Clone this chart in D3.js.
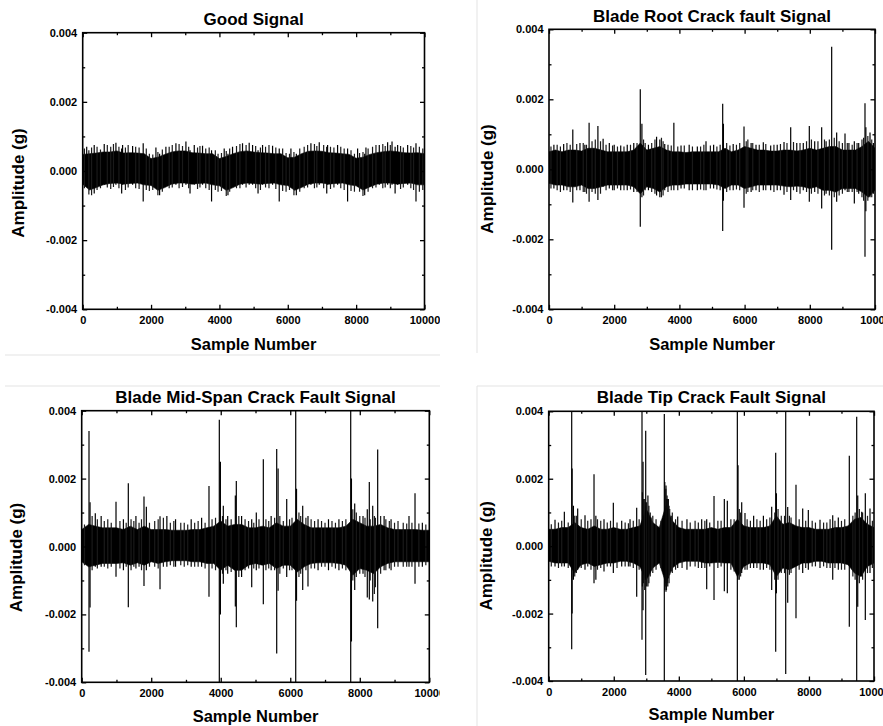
<!DOCTYPE html>
<html><head><meta charset="utf-8">
<script src="https://cdn.jsdelivr.net/npm/d3@7"></script>
<style>
html,body{margin:0;padding:0;background:#fff;}
svg text{font-family:"Liberation Sans",Arial,Helvetica,sans-serif;font-weight:bold;fill:#000;}
</style></head><body>
<svg id="chart" width="883" height="726"></svg>
<script>
// ---- DATA (amplitudes, written in units of 1e-4 g) ----
const UNIT = 1e-4;
const envelopeStep = 200;          // envelope of the dense noise band, one value every 200 samples
const sampleMax = 10000;

const xTickValues = [0, 2000, 4000, 6000, 8000, 10000];
const xTickLabels = ["0", "2000", "4000", "6000", "8000", "10000"];
const xMinorTicks = [1000, 3000, 5000, 7000, 9000];
const yTickValues = [-0.004, -0.002, 0, 0.002, 0.004];
const yTickLabels = ["-0.004", "-0.002", "0.000", "0.002", "0.004"];
const yMinorTicks = [-0.003, -0.001, 0.001, 0.003];

const titles = ["Good Signal", "Blade Root Crack fault Signal", "Blade Mid-Span Crack Fault Signal", "Blade Tip Crack Fault Signal"];
const xLabel = "Sample Number";
const yLabel = "Amplitude (g)";

// Good signal: band envelope, spikes [sample, max, min], fringe hairs [sample, max, min]
const goodUpper = [4.8,5,5.2,5.5,5.5,5.8,5.2,5.3,5.2,5,3.6,4,4.8,5.5,5.8,5.8,5.3,5.2,5,5,3.6,4.2,5,5.6,5.8,5.5,5.3,5.2,5,5,3.8,4,5,5.7,5.8,5.7,5.3,5.2,5,4.8,3.7,4,4.8,5.3,5.6,5.8,5.6,5.3,5.2,5.3,5];
const goodLower = [-3.8,-5.5,-4.8,-4,-3.6,-3.5,-3.8,-3.6,-3.5,-4,-4.2,-5.6,-4.8,-3.8,-3.5,-3.5,-3.8,-3.6,-3.5,-4,-4.3,-5.6,-4.8,-3.8,-3.5,-3.6,-3.8,-3.6,-3.5,-4,-4.2,-5.6,-4.8,-3.8,-3.5,-3.5,-3.8,-3.6,-3.5,-4,-4.3,-5.5,-4.6,-3.8,-3.5,-3.5,-3.8,-3.6,-3.5,-4,-4];
const goodSpikes = [[117,7,-4],[337,7.5,-6.5],[630,7.8,-4],[972,8.2,-4],[1140,6.5,-6.5],[1167,7.5,-4],[1460,7.2,-4],[1770,8,-8.8],[2142,6.8,-4.5],[2250,5,-7],[2434,7,-4],[2727,8,-4],[3020,8.5,-4],[3140,6,-6.5],[3264,7.5,-4],[3506,7.3,-4],[3770,6,-8.8],[4140,6.5,-4.5],[4250,5,-7],[4384,7,-4],[4676,8,-4],[4871,8.2,-4],[4970,7.5,-4],[5130,6,-6.5],[5262,7.5,-4],[5555,7.3,-4],[5750,6.5,-8.8],[6092,6.5,-4.5],[6250,5,-7],[6677,8,-4],[6921,8.3,-4],[7140,7,-6.5],[7165,7.5,-4],[7457,7.5,-4],[7750,6.5,-8.8],[8043,6.5,-4.5],[8250,5,-7],[8287,6.8,-4],[8677,7.5,-4],[8921,8.3,-4],[9050,8.5,-4],[9140,7,-6.5],[9214,7.5,-4],[9507,7.5,-4],[9751,8,-8.8]];
const goodHairs = [[50,6.5,-5],[180,6,-6.8],[260,6.8,-7],[420,7,-5.5],[520,6.2,-5],[720,7.5,-4.8],[820,7,-5.2],[900,7.8,-4.6],[1060,7,-5],[1250,6.8,-5.5],[1330,7.5,-4.8],[1550,7,-5],[1650,6.8,-5.2],[1860,6.5,-5.5],[1950,5,-5.8],[2050,4.8,-5.5],[2200,5.5,-7],[2330,6.2,-6],[2530,7,-5],[2620,7.5,-4.8],[2820,7.8,-5],[2920,7.2,-4.6],[3100,7,-5],[3360,6.8,-5.2],[3430,7.2,-4.8],[3600,6.5,-5],[3700,6.8,-5.5],[3880,6,-5.5],[3960,5,-6],[4060,5.2,-5.8],[4200,5.8,-7.2],[4300,6.5,-6],[4500,7.2,-5],[4600,7.8,-5],[4780,7.5,-4.8],[5060,7.2,-5],[5200,6.8,-5.5],[5350,7,-4.8],[5450,7.5,-5],[5650,6.8,-5.2],[5850,6.5,-5.8],[5950,5.2,-6],[6050,5,-5.5],[6180,5.5,-7],[6350,6.5,-6],[6480,7,-5],[6580,7.5,-4.8],[6780,7.8,-5],[6850,7.2,-4.8],[7050,7.5,-5],[7250,7,-5.2],[7350,6.8,-4.8],[7550,7,-5],[7650,6.5,-5.5],[7850,6,-5.8],[7950,5,-6],[8100,5.2,-6],[8200,5.5,-7.2],[8350,6.5,-6],[8480,7,-5],[8580,7.5,-4.8],[8780,7.8,-5],[8850,7.2,-4.8],[9000,7.5,-5],[9300,7.2,-5.2],[9380,6.8,-4.8],[9600,7.2,-5],[9680,6.8,-5.5],[9850,7,-6],[9950,6.5,-5.5]];

// Blade root crack
const rootUpper = [5,5.5,5,5.5,5.5,5.2,6,6,5.5,5,5,5,5,5.5,7.5,5.5,6,6.5,5.5,5,5,4.8,5,5,5,5,5,6,5,5.5,6.5,6,5.5,5.5,5.2,5.2,5.5,5.5,5.2,5.5,6,5.5,6,6.5,6.5,5.5,5.5,5.5,6.5,8,6];
const rootLower = [-4,-4.5,-4.5,-5,-5,-4.5,-5.5,-5.5,-5,-4.5,-4.5,-4.5,-4.5,-5,-7,-5,-5.5,-6.5,-5,-4.5,-4.5,-4.2,-4.2,-4.2,-4.2,-4.2,-4.5,-5.5,-4.5,-4.5,-5.5,-5,-4.5,-4.5,-4.5,-4.5,-4.8,-5,-4.8,-5,-5.5,-5,-6,-6,-6.5,-5.5,-5.5,-5.5,-6.5,-8,-6];
const rootSpikes = [[150,7,-5.5],[450,7.2,-6],[730,11.4,-9.5],[950,7.5,-6],[1100,7,-6.5],[1230,13.3,-9.3],[1500,12.4,-8.8],[1660,8.7,-5],[1850,7.5,-5.5],[2000,7,-6],[2200,6.8,-6],[2400,7,-6],[2600,7.5,-6.5],[2800,22.9,-16.4],[2850,13,-8],[3050,7,-6],[3300,9.3,-7.5],[3400,8.5,-8],[3550,7.2,-6],[3830,13.3,-6],[4050,6.8,-5.5],[4300,7,-6],[4550,6.5,-6],[4816,8,-6],[5050,7,-5.5],[5328,18.7,-17.6],[5350,13,-9],[5650,7.2,-6],[5982,12.2,-11],[6200,7.5,-6.5],[6350,7,-6],[6574,7.7,-6],[6800,6.8,-6],[7000,7,-6],[7209,7.8,-7.3],[7414,12,-8.8],[7600,7.5,-6.5],[7800,7.5,-6],[7985,12.4,-9.3],[8150,8,-6.5],[8364,12,-11.2],[8500,8,-7],[8671,35,-23],[8824,10.5,-9.3],[9080,10.2,-6],[9200,7.5,-6.5],[9366,8,-9.8],[9500,7.5,-7],[9693,18.9,-25],[9720,12,-12],[9847,10.5,-8],[9950,7.5,-7]];
const rootHairs = [[60,6.5,-5.5],[250,7,-6],[350,6.5,-6.5],[550,7.5,-6],[650,7,-6.5],[850,7.2,-6],[1050,7.5,-6.5],[1150,7,-7],[1320,8,-6.5],[1420,8.5,-7],[1580,8,-7],[1750,7,-6],[1950,6.8,-6],[2100,6.5,-5.5],[2300,6.5,-6],[2500,7,-5.8],[2700,7.5,-6.5],[2900,8.5,-7.5],[2950,7.5,-6],[3150,7.5,-6.5],[3250,8.5,-7],[3450,9,-8],[3500,8,-7.5],[3650,7,-6.5],[3750,6.8,-6],[3950,6.5,-6],[4150,6.8,-5.5],[4400,6.5,-6],[4650,6.5,-5.8],[4750,7,-6],[4950,6.8,-5.5],[5150,6.5,-5.8],[5250,7,-6],[5450,7.5,-6.5],[5550,6.8,-6],[5750,7,-5.8],[5850,7.5,-6],[6050,8,-7],[6100,8.5,-6.5],[6250,7.5,-6],[6450,7,-6.5],[6650,7.2,-6],[6900,7,-6.5],[7100,7.2,-6],[7300,7.5,-6.5],[7500,7.8,-6],[7700,7.5,-7],[7900,8,-6.5],[8050,8.5,-7],[8250,8,-7],[8450,8.5,-7.5],[8600,8.5,-7.5],[8750,9,-8],[8900,8,-7.5],[9000,7.5,-7],[9150,7.5,-6.5],[9300,7,-6.5],[9450,7.5,-6.5],[9600,8.5,-8],[9650,9,-9],[9780,9.5,-9],[9900,8.5,-8]];

// Blade mid-span crack
const midUpper = [5,6.5,6,5.5,5.5,5.5,5,6,5,6,5,5,5,4.8,4.8,4.8,5,5,5.5,6,7.5,6,6.5,6.5,5.5,5.5,6,5.5,7,6,6,8,6.5,5.5,5.5,5.5,5.5,5.5,6,8,7,6,6,6.5,5.5,5,5,5,5,4.8,4.8];
const midLower = [-4.5,-6,-5.5,-5,-5,-5,-4.8,-5.5,-4.8,-5.5,-4.5,-5,-4.5,-4.2,-4.2,-4.2,-4.5,-4.5,-5,-5,-7,-5.5,-7,-7,-5.5,-5,-5.5,-5,-6.5,-5.5,-5.5,-7.5,-6,-5,-4.8,-4.8,-4.8,-5,-5.5,-8.5,-6.5,-7,-8,-6,-5,-4.5,-4.5,-4.5,-4.5,-4.5,-4.5];
const midSpikes = [[210,34,-31],[240,13,-18],[391,9.8,-6],[560,9,-6],[987,13.2,-8.9],[1200,8,-7],[1341,18.6,-17.9],[1560,9,-6.5],[1792,14.7,-11.6],[1860,11.7,-7],[2253,8.9,-12.6],[2450,9,-6],[2700,8,-6],[3150,8,-6],[3450,8.5,-6],[3662,17.8,-14.8],[3959,37.3,-45],[3990,25,-20],[4074,12,-11],[4200,9,-8],[4420,15,-17.7],[4448,19.3,-23.8],[4600,9,-9],[4891,8,-12],[5023,10,-7],[5225,25.7,-17],[5450,9,-7],[5610,28.7,-31.5],[5650,23,-13],[5898,14,-9],[6157,45,-45],[6180,17,-16],[6358,12,-12.8],[6510,9,-11.8],[6800,8,-7],[7100,8,-7],[7400,8,-7],[7739,45,-45],[7760,20,-28],[7854,12.7,-12.8],[8093,9,-8],[8216,11,-15],[8274,19,-15.6],[8372,12,-16.2],[8515,28.6,-24.1],[8700,9,-7],[8900,8,-7],[9416,9,-6],[9589,15.7,-11],[9800,7,-6]];
const midHairs = [[80,6.5,-5.5],[300,9,-7],[450,8,-6.5],[650,7.5,-6],[750,8,-6.5],[850,7,-6],[1100,7.5,-6.5],[1280,7,-6],[1420,8,-7],[1500,7.5,-6],[1650,7,-6],[1720,8,-7],[1950,7,-6],[2100,7.5,-6],[2200,8,-6.5],[2350,8.5,-6],[2550,7,-5.5],[2650,7.5,-6],[2850,7,-5.5],[2950,7,-6],[3050,6.5,-5.5],[3250,7,-6],[3350,7.5,-6],[3550,7,-6.5],[3750,8,-6.5],[3850,8.5,-7],[4050,9,-8],[4150,8,-7],[4300,8,-7.5],[4520,9,-9],[4700,8,-7],[4800,7.5,-6.5],[4950,7,-6.5],[5100,8,-6.5],[5300,8,-7],[5380,7.5,-6.5],[5550,8.5,-7],[5700,9,-8],[5800,7.5,-6.5],[5980,8,-7],[6050,8.5,-7],[6250,10,-9],[6300,9,-8],[6450,8.5,-7],[6600,8,-6.5],[6700,7.5,-6.5],[6900,7.5,-6],[7000,7,-6],[7200,7.5,-6],[7300,7,-6.5],[7500,7.5,-6.5],[7600,8,-7],[7800,11,-10],[7900,10,-9],[8000,9,-8],[8150,8.5,-9],[8300,8,-10],[8420,9,-14],[8450,8.5,-12],[8600,9,-8],[8750,8,-7],[8850,7.5,-6.5],[9000,7,-6],[9100,7.5,-6],[9250,7,-6],[9350,6.8,-6],[9500,7,-6],[9700,6.8,-6],[9900,6.5,-5.5]];

// Blade tip crack
const tipUpper = [5,5,5.5,5.5,7,5.5,5,6,5,5,5.5,5,5,5.5,6,11,7,5.5,12,7.5,5.5,5,5,5,5,5.5,5,5.5,5.5,8,6,5.5,5.5,5.5,6,9,6.5,7,6,5.5,5.5,5,5,5,5.5,5.5,6,8,8.5,6.5,5.5];
const tipLower = [-4.5,-5,-5,-5,-8,-5.5,-5,-6,-5.5,-5,-5,-4.5,-4.5,-5,-6,-10,-6.5,-5,-11,-6.5,-5,-4.5,-4.5,-4.5,-5,-5,-4.8,-5,-5,-9,-6,-5,-5,-5,-5.5,-9,-6.5,-7,-6,-5,-5,-4.5,-4.5,-5,-5,-5,-5.5,-8,-9,-6,-5];
const tipSpikes = [[194,7.8,-6],[481,10.2,-6],[707,45,-30.6],[720,23,-20],[760,12,-10],[891,11.2,-7],[1116,9.2,-7],[1393,21.3,-11],[1450,9,-10],[1700,8,-7.5],[1987,12.9,-8],[2244,7.5,-6],[2500,8,-6],[2705,11.4,-15],[2868,45,-27.8],[2900,25,-19],[2982,34.2,-38.2],[3050,15,-12],[3120,10,-9],[3554,39.2,-45],[3606,18,-13.5],[3660,14,-12],[3966,8.8,-6.5],[4250,8,-7],[4703,8,-6.5],[4857,8,-12.8],[5082,14.9,-16],[5399,14,-13.4],[5491,13.5,-14],[5799,45,-45],[5820,24,-10],[5933,13,-8],[6034,9.8,-7],[6300,9,-6.5],[6600,9,-7],[6855,11.7,-13],[6978,27.7,-31.3],[7000,15.7,-14],[7286,45,-37.9],[7347,11.6,-16.8],[7602,18.2,-21.4],[7808,11.2,-8],[7981,10.7,-7],[8340,7.8,-6.5],[8731,9.2,-10],[8903,8.5,-7],[9241,26.8,-23.9],[9468,38.4,-45],[9500,15,-18],[9622,10.2,-9],[9733,15.7,-21.9],[9877,11.2,-8]];
const tipHairs = [[80,6.5,-6],[300,7,-6.5],[400,7.5,-6],[600,7,-6.5],[800,9,-9],[850,9,-8],[1000,8,-6.5],[1200,7.5,-6],[1300,8,-7],[1500,8,-7],[1600,7.5,-6.5],[1800,7,-6],[1900,7.5,-6],[2100,7,-6.5],[2350,7,-6],[2450,6.8,-6],[2600,7.5,-6.5],[2780,8,-7],[2880,16,-12],[2920,14,-11],[2950,14,-13],[2960,13,-10],[3000,12,-10],[3010,13,-12],[3060,10,-8.5],[3080,12,-11],[3150,8.5,-7],[3200,9,-8],[3300,8,-7],[3450,7.5,-6.5],[3570,19,-13],[3600,17,-12],[3620,14,-13],[3640,15,-11],[3680,14,-9.5],[3700,12,-11],[3720,11,-8.5],[3780,9,-7.5],[3800,10,-8],[3900,8,-7],[4100,7.5,-6.5],[4350,7,-6],[4500,7.5,-6],[4600,7,-6.5],[4800,7.5,-6.5],[4950,7,-6],[5200,7.5,-6.5],[5300,7.5,-6],[5600,8,-7],[5700,8,-7.5],[5860,11,-10],[5900,10,-9],[6100,8,-7],[6200,7.5,-6.5],[6400,8,-6.5],[6500,7.5,-7],[6700,8,-6.5],[6800,8.5,-7],[6950,10,-10],[7050,11,-10],[7150,9,-8],[7250,9,-8],[7400,9,-8.5],[7450,8.5,-8],[7700,8,-7],[7900,7.5,-6.5],[8100,7.5,-6],[8200,7,-6],[8450,7,-6],[8550,7,-6.5],[8650,8,-6.5],[8800,7.5,-6.5],[9000,7.5,-7],[9100,8,-7],[9350,9,-9],[9420,10,-10],[9550,11,-11],[9650,10,-10],[9800,9,-8],[9950,7.5,-6.5]];

// ---- LAYOUT ----
const panels = [
  {title: titles[0], upper: goodUpper, lower: goodLower, spikes: goodSpikes, hairs: goodHairs,
   box: {x0: 82.7, x1: 424.5, y0: 32.7, y1: 309.3}, titleY: 25, xlabY: 350, ylabX: 24, ylabY: 183, clip: [0, 0, 440, 365]},
  {title: titles[1], upper: rootUpper, lower: rootLower, spikes: rootSpikes, hairs: rootHairs,
   box: {x0: 549, x1: 875, y0: 29.3, y1: 309.3}, titleY: 22, xlabY: 350, ylabX: 493, ylabY: 179, clip: [440, 0, 443, 365]},
  {title: titles[2], upper: midUpper, lower: midLower, spikes: midSpikes, hairs: midHairs,
   box: {x0: 81.7, x1: 429.3, y0: 410.7, y1: 682.3}, titleY: 403.3, xlabY: 722.3, ylabX: 22, ylabY: 557.5, clip: [0, 370, 440, 356]},
  {title: titles[3], upper: tipUpper, lower: tipLower, spikes: tipSpikes, hairs: tipHairs,
   box: {x0: 548.7, x1: 874, y0: 411.3, y1: 681}, titleY: 403.3, xlabY: 720, ylabX: 492, ylabY: 555.8, clip: [440, 370, 443, 356]}
];

const svg = d3.select("#chart");

// faint borders of the original sub-figures
const frameLines = [[477, 0, 477, 353], [5, 355, 440, 355], [5, 386, 440, 386], [477, 386, 883, 386], [477, 386, 477, 726]];
svg.append("g").selectAll("line").data(frameLines).join("line")
  .attr("x1", d => d[0]).attr("y1", d => d[1]).attr("x2", d => d[2]).attr("y2", d => d[3])
  .attr("stroke", "#e3e3e3").attr("stroke-width", 1);

panels.forEach((p, pi) => {
  const b = p.box;
  const x = d3.scaleLinear().domain([0, sampleMax]).range([b.x0, b.x1]);
  const y = d3.scaleLinear().domain([-0.004, 0.004]).range([b.y1, b.y0]);

  const cid = "clipP" + pi, pid = "plotP" + pi;
  const defs = svg.append("defs");
  defs.append("clipPath").attr("id", cid).append("rect")
    .attr("x", p.clip[0]).attr("y", p.clip[1]).attr("width", p.clip[2]).attr("height", p.clip[3]);
  defs.append("clipPath").attr("id", pid).append("rect")
    .attr("x", b.x0).attr("y", b.y0).attr("width", b.x1 - b.x0).attr("height", b.y1 - b.y0);

  const g = svg.append("g").attr("clip-path", `url(#${cid})`);
  const plot = g.append("g").attr("clip-path", `url(#${pid})`);

  const env = p.upper.map((u, i) => ({s: i * envelopeStep, hi: u * UNIT, lo: p.lower[i] * UNIT}));
  const area = d3.area().x(d => x(d.s)).y0(d => y(d.lo)).y1(d => y(d.hi));
  plot.append("path").datum(env).attr("d", area).attr("fill", "#000")
    .attr("stroke", "#000").attr("stroke-width", 0.6);

  plot.selectAll("line.hair").data(p.hairs).join("line").attr("class", "hair")
    .attr("x1", d => x(d[0])).attr("x2", d => x(d[0]))
    .attr("y1", d => y(d[1] * UNIT)).attr("y2", d => y(d[2] * UNIT))
    .attr("stroke", "#1a1a1a").attr("stroke-width", 1.2);

  plot.selectAll("line.spike").data(p.spikes).join("line").attr("class", "spike")
    .attr("x1", d => x(d[0])).attr("x2", d => x(d[0]))
    .attr("y1", d => y(d[1] * UNIT)).attr("y2", d => y(d[2] * UNIT))
    .attr("stroke", "#000").attr("stroke-width", 1.2);

  // axes: ticks inward on all sides
  const fmtX = d => xTickLabels[xTickValues.indexOf(d)];
  const fmtY = d => yTickLabels[yTickValues.indexOf(d)];
  const style = sel => {
    sel.select(".domain").remove();
    sel.selectAll(".tick line").attr("stroke", "#000").attr("stroke-width", 1.3);
    sel.selectAll(".tick text").style("font-size", "11px").attr("fill", "#000");
  };
  g.append("g").attr("transform", `translate(0,${b.y1})`)
    .call(d3.axisBottom(x).tickValues(xTickValues).tickSize(-4.5).tickPadding(7).tickFormat(fmtX)).call(style);
  g.append("g").attr("transform", `translate(0,${b.y1})`)
    .call(d3.axisBottom(x).tickValues(xMinorTicks).tickSize(-2.5).tickFormat("")).call(style);
  g.append("g").attr("transform", `translate(0,${b.y0})`)
    .call(d3.axisTop(x).tickValues(xTickValues).tickSize(-4.5).tickFormat("")).call(style);
  g.append("g").attr("transform", `translate(0,${b.y0})`)
    .call(d3.axisTop(x).tickValues(xMinorTicks).tickSize(-2.5).tickFormat("")).call(style);
  g.append("g").attr("transform", `translate(${b.x0},0)`)
    .call(d3.axisLeft(y).tickValues(yTickValues).tickSize(-4.5).tickPadding(5.5).tickFormat(fmtY)).call(style);
  g.append("g").attr("transform", `translate(${b.x0},0)`)
    .call(d3.axisLeft(y).tickValues(yMinorTicks).tickSize(-2.5).tickFormat("")).call(style);
  g.append("g").attr("transform", `translate(${b.x1},0)`)
    .call(d3.axisRight(y).tickValues(yTickValues).tickSize(-4.5).tickFormat("")).call(style);
  g.append("g").attr("transform", `translate(${b.x1},0)`)
    .call(d3.axisRight(y).tickValues(yMinorTicks).tickSize(-2.5).tickFormat("")).call(style);

  g.append("rect").attr("x", b.x0).attr("y", b.y0).attr("width", b.x1 - b.x0).attr("height", b.y1 - b.y0)
    .attr("fill", "none").attr("stroke", "#000").attr("stroke-width", 1.6);

  const cx = (b.x0 + b.x1) / 2;
  g.append("text").attr("x", cx).attr("y", p.titleY).attr("text-anchor", "middle")
    .style("font-size", "17px").text(p.title);
  g.append("text").attr("x", cx).attr("y", p.xlabY).attr("text-anchor", "middle")
    .style("font-size", "16.5px").text(xLabel);
  g.append("text").attr("transform", `translate(${p.ylabX},${p.ylabY}) rotate(-90)`)
    .attr("text-anchor", "middle").style("font-size", "17px").text(yLabel);
});
</script>
</body></html>
